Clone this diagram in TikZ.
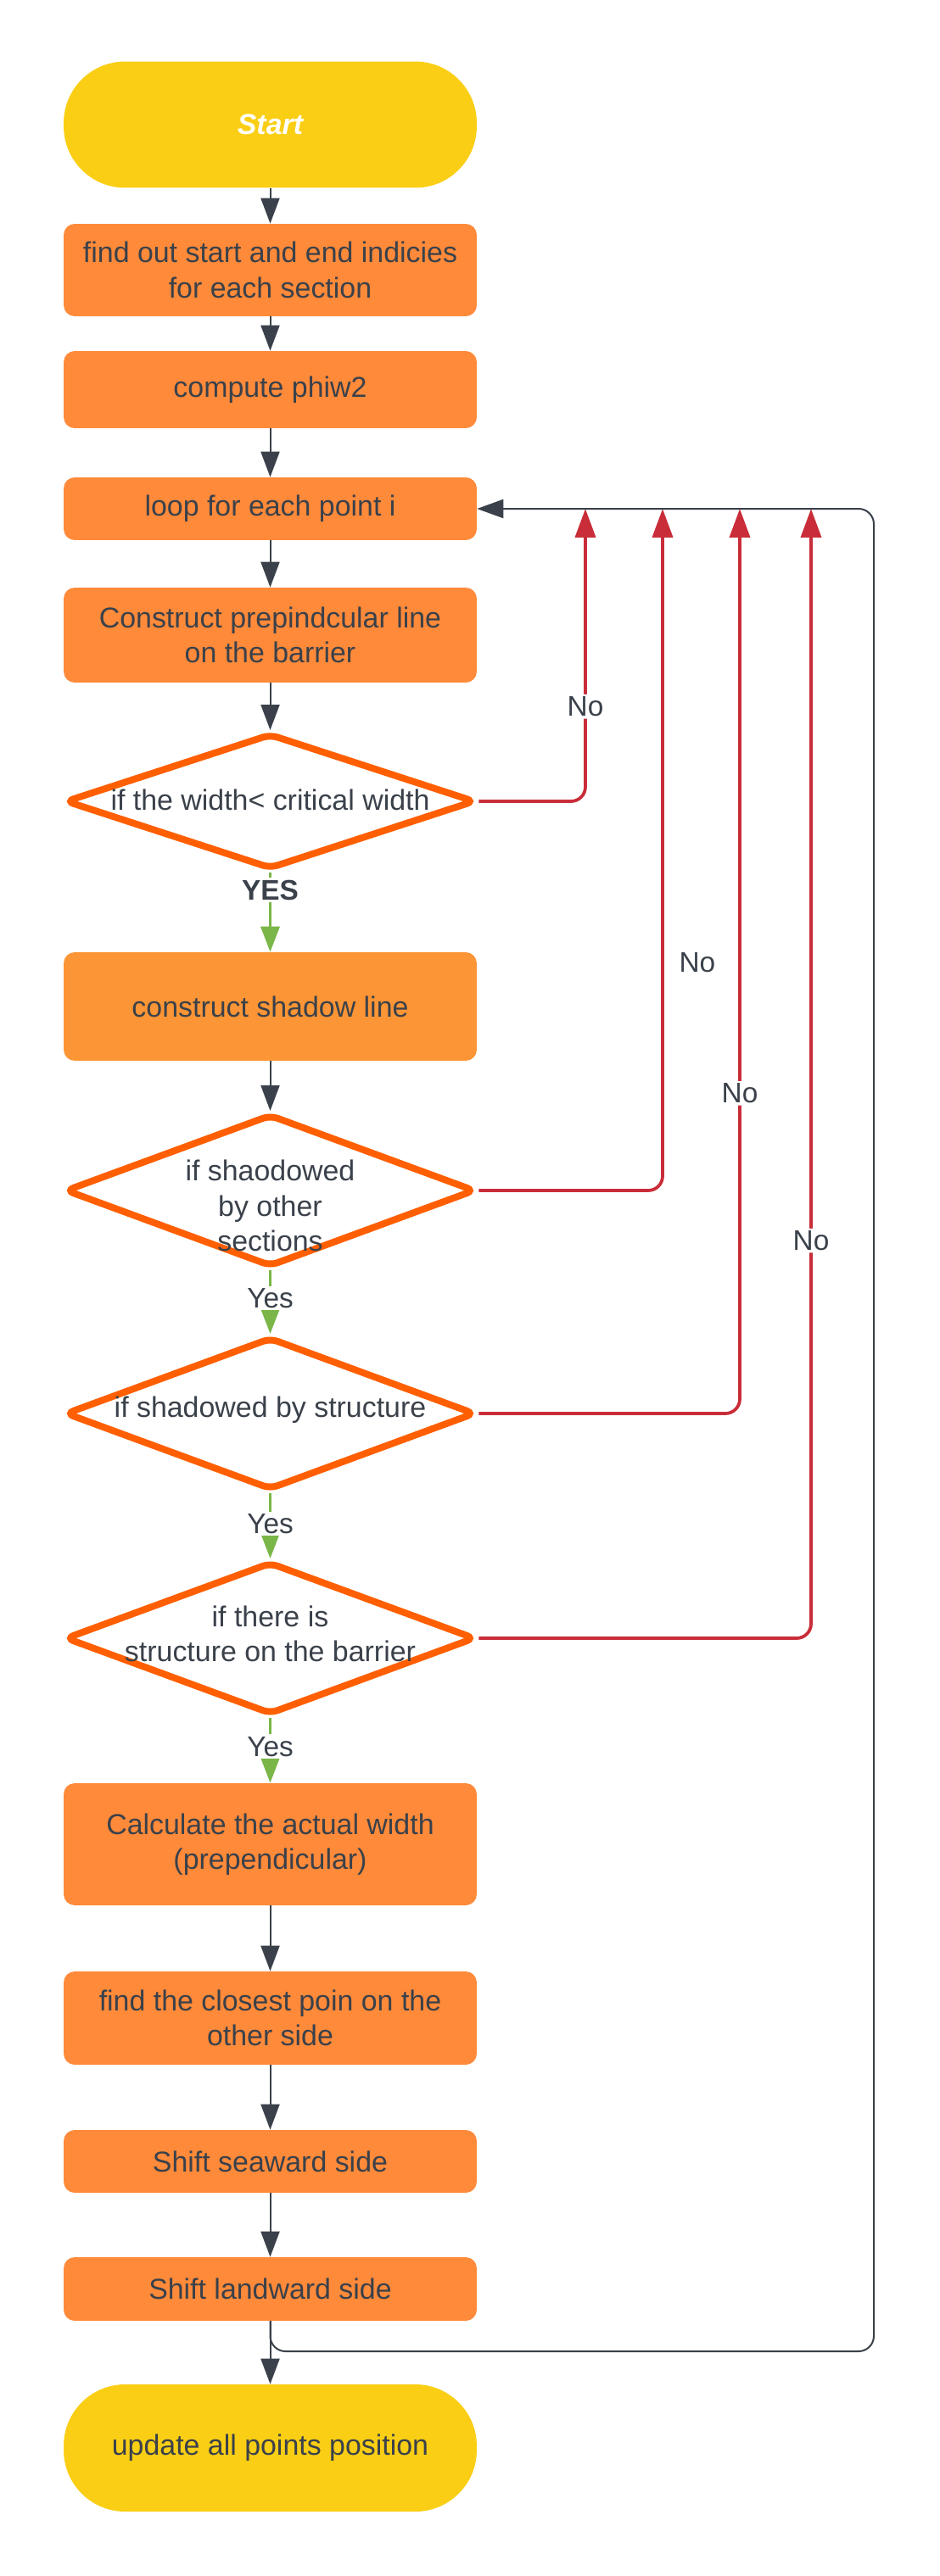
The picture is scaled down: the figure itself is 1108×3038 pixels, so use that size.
\documentclass[tikz,border=0pt]{standalone}
\usepackage{fontspec}
\setmainfont{Liberation Sans}
\usetikzlibrary{shapes.geometric,arrows.meta}

\definecolor{termyellow}{HTML}{FACE14}
\definecolor{procorange}{HTML}{FF8A3A}
\definecolor{shadeorange}{HTML}{FC9535}
\definecolor{dstroke}{HTML}{FF5F00}
\definecolor{txtdark}{HTML}{3A414A}
\definecolor{nored}{HTML}{C92D39}
\definecolor{yesgreen}{HTML}{7AB648}

\begin{document}
\begin{tikzpicture}[
    x=0.02cm, y=-0.02cm,
    every node/.style={font=\fontsize{19.3}{23.5}\selectfont, text=txtdark},
    term/.style={rectangle, rounded corners=1.45cm, fill=termyellow, minimum width=9.74cm, minimum height=2.98cm},
    proc/.style={rectangle, rounded corners=0.26cm, fill=procorange, minimum width=9.74cm, align=center},
    decision/.style={diamond, draw=dstroke, line width=0.16cm, fill=white, rounded corners=0.18cm, inner sep=0pt, minimum width=9.68cm},
    dtext/.style={align=center, inner sep=0pt},
    flow/.style={draw=txtdark, line width=0.04cm, -{Triangle[length=0.6cm, width=0.44cm]}},
    yes_link/.style={draw=yesgreen, line width=0.07cm, -{Triangle[length=0.6cm, width=0.44cm]}},
    no_link/.style={draw=nored, line width=0.075cm, rounded corners=0.34cm, -{Triangle[length=0.68cm, width=0.48cm]}},
    back_link/.style={draw=txtdark, line width=0.04cm, rounded corners=0.36cm, -{Triangle[length=0.62cm, width=0.44cm]}}, % back to the loop
    edge_lbl/.style={fill=white, inner sep=1.5pt, font=\fontsize{19}{23}\selectfont}
]
\useasboundingbox (0,0) rectangle (1108,3038);

\node[term, text=white, font=\fontsize{19.3}{23.5}\selectfont\bfseries\itshape] (start) at (318.5,147) {Start};
\node[proc, minimum height=2.18cm] (find_idx) at (318.5,318.5) {find out start and end indicies\\for each section};
\node[proc, minimum height=1.82cm] (phiw) at (318.5,459.5) {compute phiw2};
\node[proc, minimum height=1.48cm] (loop) at (318.5,600) {loop for each point i};
\node[proc, minimum height=2.24cm] (perp) at (318.5,749) {Construct prepindcular line\\on the barrier};
\node[decision, minimum height=3.2cm] (w_chk) at (318.5,945) {};
\node[dtext] (w_chk_t) at (318.5,943) {if the width< critical width};
\node[proc, fill=shadeorange, minimum height=2.56cm] (shadow) at (318.5,1187) {construct shadow line};
\node[decision, minimum height=3.6cm] (sh_sec) at (318.5,1404) {};
\node[dtext] (sh_sec_t) at (318.5,1422) {if shaodowed\\by other\\sections};
\node[decision, minimum height=3.6cm] (sh_str) at (318.5,1667) {};
\node[dtext] (sh_str_t) at (318.5,1663) {if shadowed by structure};
\node[decision, minimum height=3.6cm] (str_bar) at (318.5,1932) {};
\node[dtext] (str_bar_t) at (318.5,1927) {if there is\\structure on the barrier};
\node[proc, minimum height=2.88cm] (calc) at (318.5,2175) {Calculate the actual width\\(prependicular)};
\node[proc, minimum height=2.2cm] (closest) at (318.5,2380) {find the closest poin on the\\other side};
\node[proc, minimum height=1.48cm] (seaward) at (318.5,2549) {Shift seaward side};
\node[proc, minimum height=1.5cm] (landward) at (318.5,2699.5) {Shift landward side};
\node[term, minimum height=3.0cm] (update) at (318.5,2887) {update all points position};

\coordinate (ret_a) at (690,600);
\coordinate (ret_b) at (781,600);
\coordinate (ret_c) at (872,600);
\coordinate (ret_d) at (956,600);
\coordinate (back_bot) at (1030,2773);

% main flow
\draw[flow] (start) -- (find_idx);
\draw[flow] (find_idx) -- (phiw);
\draw[flow] (phiw) -- (loop);
\draw[flow] (loop) -- (perp);
\draw[flow] (perp) -- (w_chk);
\draw[yes_link] (w_chk) -- node[edge_lbl, pos=0.22, font=\fontsize{19}{23}\selectfont\bfseries] (yes_a) {YES} (shadow);
\draw[flow] (shadow) -- (sh_sec);
\draw[yes_link] (sh_sec) -- node[edge_lbl, pos=0.44] (yes_b) {Yes} (sh_str);
\draw[yes_link] (sh_str) -- node[edge_lbl, pos=0.47] (yes_c) {Yes} (str_bar);
\draw[yes_link] (str_bar) -- node[edge_lbl, pos=0.44] (yes_d) {Yes} (calc);
\draw[flow] (calc) -- (closest);
\draw[flow] (closest) -- (seaward);
\draw[flow] (seaward) -- (landward);
\draw[flow] (landward) -- (update);

% no branches
\draw[no_link] (w_chk.east) -| node[edge_lbl, pos=0.662] (no_a) {No} (ret_a);
\draw[no_link] (sh_sec.east) -| node[edge_lbl, fill=none, pos=0.667, right=0.3cm] (no_b) {No} (ret_b);
\draw[no_link] (sh_str.east) -| node[edge_lbl, pos=0.677] (no_c) {No} (ret_c);
\draw[no_link] (str_bar.east) -| node[edge_lbl, pos=0.676] (no_d) {No} (ret_d);

\draw[back_link] (landward.south) |- (back_bot) |- (loop.east);
\end{tikzpicture}
\end{document}
